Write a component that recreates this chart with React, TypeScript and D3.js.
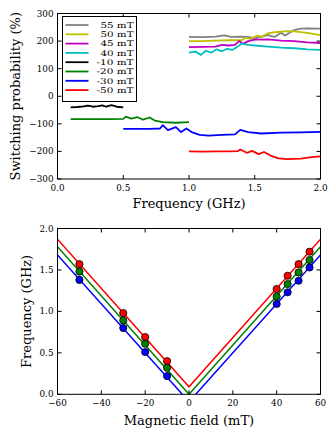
import React from "react";
import * as d3 from "d3";

// ---------- Top chart data ----------
const topSeriesNames = ["55 mT", "50 mT", "45 mT", "40 mT", "-10 mT", "-20 mT", "-30 mT", "-50 mT"];
const topSeriesColors = ["#808080", "#bfbf00", "#bf00bf", "#00bfbf", "#000000", "#008000", "#0000ff", "#ff0000"];

const s55: [number, number][] = [[1.0, 215], [1.1, 214], [1.2, 216], [1.27, 221], [1.32, 215], [1.4, 216], [1.45, 215], [1.5, 210], [1.55, 216], [1.6, 222], [1.65, 215], [1.7, 230], [1.73, 220], [1.8, 240], [1.85, 245], [1.9, 246], [2.0, 245]];
const s50: [number, number][] = [[1.0, 200], [1.1, 200], [1.2, 202], [1.3, 203], [1.4, 203], [1.43, 212], [1.47, 208], [1.52, 220], [1.55, 215], [1.6, 228], [1.65, 232], [1.75, 236], [1.8, 235], [1.9, 230], [2.0, 222]];
const s45: [number, number][] = [[1.0, 178], [1.1, 179], [1.2, 180], [1.25, 186], [1.3, 184], [1.35, 186], [1.38, 200], [1.41, 190], [1.45, 200], [1.5, 205], [1.6, 206], [1.7, 202], [1.8, 200], [1.9, 195], [2.0, 193]];
const s40: [number, number][] = [[1.0, 158], [1.05, 162], [1.09, 150], [1.13, 165], [1.17, 158], [1.21, 170], [1.25, 163], [1.29, 172], [1.33, 168], [1.37, 180], [1.4, 191], [1.45, 186], [1.5, 184], [1.6, 180], [1.7, 176], [1.8, 174], [1.9, 170], [2.0, 168]];
const sm10: [number, number][] = [[0.1, -40], [0.15, -39], [0.2, -37], [0.23, -34], [0.27, -38], [0.31, -36], [0.34, -33], [0.37, -38], [0.41, -32], [0.45, -38], [0.5, -40]];
const sm20: [number, number][] = [[0.1, -83], [0.2, -83], [0.3, -83], [0.4, -83], [0.5, -82], [0.52, -74], [0.56, -81], [0.61, -76], [0.65, -85], [0.7, -77], [0.74, -88], [0.8, -94], [0.9, -96], [1.0, -94]];
const sm30: [number, number][] = [[0.5, -118], [0.6, -118], [0.7, -118], [0.78, -117], [0.8, -105], [0.84, -123], [0.9, -112], [0.94, -130], [0.98, -117], [1.02, -130], [1.08, -140], [1.15, -143], [1.25, -140], [1.35, -138], [1.39, -122], [1.45, -130], [1.55, -135], [1.7, -132], [1.85, -131], [2.0, -129]];
const sm50: [number, number][] = [[1.0, -200], [1.1, -201], [1.2, -200], [1.3, -200], [1.37, -199], [1.39, -193], [1.44, -205], [1.48, -198], [1.53, -210], [1.57, -202], [1.62, -215], [1.68, -225], [1.75, -228], [1.85, -226], [1.95, -220], [2.0, -218]];
const topSeries = [s55, s50, s45, s40, sm10, sm20, sm30, sm50];

const topXTicks = [0.0, 0.5, 1.0, 1.5, 2.0];
const topYTicks = [-300, -200, -100, 0, 100, 200, 300];

// ---------- Bottom chart data ----------
const fieldVals = [-50, -30, -20, -10, 40, 45, 50, 55];
const redFreq = [1.57, 0.98, 0.69, 0.40, 1.27, 1.43, 1.57, 1.72];
const greenFreq = [1.48, 0.89, 0.61, 0.32, 1.18, 1.33, 1.47, 1.62];
const blueFreq = [1.38, 0.80, 0.51, 0.22, 1.09, 1.23, 1.37, 1.53];
const fitField = [-60, 0, 60];
const redFit = [1.87, 0.09, 1.87];
const greenFit = [1.78, 0.0, 1.78];
const blueFit = [1.68, -0.09, 1.68];
const bottomColors = ["#ff0000", "#008000", "#0000ff"];

const botXTicks = [-60, -40, -20, 0, 20, 40, 60];
const botYTicks = [0.0, 0.5, 1.0, 1.5, 2.0];

const FONT = "'DejaVu Serif', serif";
const fmtMinus = (s: string) => s.replace("-", "\u2212");

export default function App() {
  const W = 335, H = 438;
  const L = 57.5, R = 320.5;
  // top
  const tT = 13.5, tB = 179;
  const xT = d3.scaleLinear().domain([0, 2]).range([L, R]);
  const yT = d3.scaleLinear().domain([-300, 300]).range([tB, tT]);
  // bottom
  const bT = 228.5, bB = 394.3;
  const xB = d3.scaleLinear().domain([-60, 60]).range([L, R]);
  const yB = d3.scaleLinear().domain([0, 2]).range([bB, bT]);

  const lineT = d3.line<[number, number]>().x(d => xT(d[0])).y(d => yT(d[1]));
  const lineB = d3.line<[number, number]>().x(d => xB(d[0])).y(d => yB(d[1]));

  const tickLen = 4;
  const tickFont = 8.8;
  const labelFont = 13;

  const fits = [redFit, greenFit, blueFit];
  const pts = [redFreq, greenFreq, blueFreq];

  const legX0 = 62.5, legY0 = 16.5, legW = 74, legH = 85;
  const legRow = 9.3;

  return (
    <svg width={W} height={H} style={{ position: "absolute", left: 0, top: 0, background: "#fff" }} fontFamily={FONT}>
      <defs>
        <clipPath id="clipT"><rect x={L} y={tT} width={R - L} height={tB - tT} /></clipPath>
        <clipPath id="clipB"><rect x={L} y={bT} width={R - L} height={bB - bT} /></clipPath>
      </defs>

      {/* ---------- TOP ---------- */}
      <g clipPath="url(#clipT)">
        {topSeries.map((s, i) => (
          <path key={i} d={lineT(s) || ""} fill="none" stroke={topSeriesColors[i]} strokeWidth={1.8} strokeLinejoin="round" />
        ))}
      </g>
      {topXTicks.map(t => (
        <g key={"tx" + t}>
          <line x1={xT(t)} x2={xT(t)} y1={tB} y2={tB - tickLen} stroke="#000" />
          <line x1={xT(t)} x2={xT(t)} y1={tT} y2={tT + tickLen} stroke="#000" />
          <text x={xT(t)} y={tB + 11.5} fontSize={tickFont} textAnchor="middle">{t.toFixed(1)}</text>
        </g>
      ))}
      {topYTicks.map(t => (
        <g key={"ty" + t}>
          <line x1={L} x2={L + tickLen} y1={yT(t)} y2={yT(t)} stroke="#000" />
          <line x1={R} x2={R - tickLen} y1={yT(t)} y2={yT(t)} stroke="#000" />
          <text x={L - 4} y={yT(t) + 3} fontSize={tickFont} textAnchor="end">{fmtMinus(String(t))}</text>
        </g>
      ))}
      <rect x={L} y={tT} width={R - L} height={tB - tT} fill="none" stroke="#000" strokeWidth={1} />
      <text x={(L + R) / 2} y={208.3} fontSize={labelFont} textAnchor="middle">Frequency (GHz)</text>
      <text transform={`translate(19.5,${(tT + tB) / 2}) rotate(-90)`} fontSize={labelFont} textAnchor="middle">Switching probability (%)</text>

      {/* legend */}
      <rect x={legX0} y={legY0} width={legW} height={legH} fill="#fff" stroke="#000" strokeWidth={1} />
      {topSeriesNames.map((n, i) => (
        <g key={"lg" + i}>
          <line x1={65.5} x2={88.5} y1={legY0 + 8.5 + i * legRow} y2={legY0 + 8.5 + i * legRow} stroke={topSeriesColors[i]} strokeWidth={1.8} />
          <text x={133.5} y={legY0 + 11.3 + i * legRow} fontSize={7.9} textAnchor="end" textLength={n.startsWith("-") ? 37 : 33} lengthAdjust="spacingAndGlyphs">{n}</text>
        </g>
      ))}

      {/* ---------- BOTTOM ---------- */}
      <g clipPath="url(#clipB)">
        {fits.map((f, i) => (
          <path key={"f" + i} d={lineB(fitField.map((x, j) => [x, f[j]] as [number, number])) || ""} fill="none" stroke={bottomColors[i]} strokeWidth={1.5} />
        ))}
      </g>
      {pts.map((p, i) => (
        <g key={"p" + i}>
          {fieldVals.map((x, j) => (
            <circle key={j} cx={xB(x)} cy={yB(p[j])} r={3.6} fill={bottomColors[i]} stroke="#000" strokeWidth={0.8} />
          ))}
        </g>
      ))}
      {botXTicks.map(t => (
        <g key={"bx" + t}>
          <line x1={xB(t)} x2={xB(t)} y1={bB} y2={bB - tickLen} stroke="#000" />
          <line x1={xB(t)} x2={xB(t)} y1={bT} y2={bT + tickLen} stroke="#000" />
          <text x={xB(t)} y={bB + 12} fontSize={tickFont} textAnchor="middle">{fmtMinus(String(t))}</text>
        </g>
      ))}
      {botYTicks.map(t => (
        <g key={"by" + t}>
          <line x1={L} x2={L + tickLen} y1={yB(t)} y2={yB(t)} stroke="#000" />
          <line x1={R} x2={R - tickLen} y1={yB(t)} y2={yB(t)} stroke="#000" />
          <text x={L - 4} y={yB(t) + 3} fontSize={tickFont} textAnchor="end">{t.toFixed(1)}</text>
        </g>
      ))}
      <rect x={L} y={bT} width={R - L} height={bB - bT} fill="none" stroke="#000" strokeWidth={1} />
      <text x={(L + R) / 2} y={424.5} fontSize={labelFont} textAnchor="middle">Magnetic field (mT)</text>
      <text transform={`translate(30.5,${(bT + bB) / 2}) rotate(-90)`} fontSize={labelFont} textAnchor="middle">Frequency (GHz)</text>
    </svg>
  );
}
